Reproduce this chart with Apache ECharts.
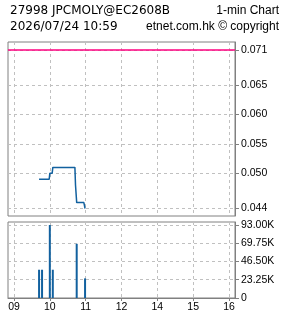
<!DOCTYPE html>
<html>
<head>
<meta charset="utf-8">
<script src="https://cdn.jsdelivr.net/npm/echarts@6/dist/echarts.min.js"></script>
<style>html,body{margin:0;padding:0;background:#fff}#c{width:285px;height:318px}</style>
</head>
<body>
<div id="c"></div>
<script>
// ---- texts ----
const titleLeft1 = "27998 JPCMOLY@EC2608B";
const titleRight1 = "1-min Chart";
const titleLeft2 = "2026/07/24 10:59";
const titleRight2 = "etnet.com.hk \u00a9 copyright";

// ---- time axis (trading sessions, lunch collapsed) ----
const sessions = [["08:50", "12:00"], ["13:01", "16:10"]];
const hourTicks = ["09:00", "10:00", "11:00", "12:00", "14:00", "15:00", "16:00"];
const hourLabels = ["09", "10", "11", "12", "14", "15", "16"];

// ---- price (minute close, corners of the line) ----
const priceTimes = ["09:42", "09:59", "10:00", "10:04", "10:05", "10:42", "10:43", "10:44", "10:45", "10:57", "10:59"];
const priceValues = [0.049, 0.049, 0.050, 0.050, 0.051, 0.051, 0.048, 0.048, 0.045, 0.045, 0.044];
const refLevel = 0.071;
const priceTicks = [0.044, 0.050, 0.055, 0.060, 0.065, 0.071];

// ---- volume ----
const volTimes = ["09:42", "09:47", "10:00", "10:05", "10:45", "10:59"];
const volValues = [36000, 36000, 93000, 36000, 69000, 25000];
const volTicks = [0, 23250, 46500, 69750, 93000];

// build minute categories
function toMin(s) { const p = s.split(":"); return +p[0] * 60 + +p[1]; }
function fmt(m) { const h = Math.floor(m / 60), mm = m % 60; return (h < 10 ? "0" : "") + h + ":" + (mm < 10 ? "0" : "") + mm; }
const categories = [];
sessions.forEach(function (s) { for (let m = toMin(s[0]); m <= toMin(s[1]); m++) categories.push(fmt(m)); });

const isHour = function (idx, val) { return hourTicks.indexOf(val) >= 0; };
const gridColor = '#c0c0c0';
const borderColor = '#808080';
const blue = '#12619f';
const labelFont = { fontFamily: 'Liberation Sans', fontSize: 10.5, color: '#000' };

const chart = echarts.init(document.getElementById('c'), null, { renderer: 'canvas' });
chart.setOption({
  animation: false,
  backgroundColor: '#fff',
  graphic: [
    { type: 'text', left: 10, top: 5, style: { text: titleLeft1, font: '12px "DejaVu Sans"', fill: '#000' } },
    { type: 'text', right: 6, top: 5, style: { text: titleRight1, font: '12px "Liberation Sans"', fill: '#000' } },
    { type: 'text', left: 10, top: 21, style: { text: titleLeft2, font: '12px "DejaVu Sans"', fill: '#000' } },
    { type: 'text', right: 6, top: 21, style: { text: titleRight2, font: '12px "Liberation Sans"', fill: '#000' } }
  ],
  grid: [
    { left: 8, right: 50, top: 42, height: 174, show: true, borderColor: borderColor, borderWidth: 1, outerBoundsMode: 'none' },
    { left: 8, right: 50, top: 222, height: 76, show: true, borderColor: borderColor, borderWidth: 1, outerBoundsMode: 'none' }
  ],
  xAxis: [
    {
      type: 'category', gridIndex: 0, data: categories, boundaryGap: false,
      axisLine: { show: false }, axisTick: { show: false }, axisLabel: { show: false },
      splitLine: { show: true, interval: isHour, lineStyle: { color: gridColor, type: [3, 3], width: 1 } }
    },
    {
      type: 'category', gridIndex: 1, data: categories, boundaryGap: false,
      axisLine: { show: true, lineStyle: { color: borderColor } },
      axisTick: { show: true, interval: isHour, length: 3, lineStyle: { color: borderColor } },
      axisLabel: Object.assign({ show: true, interval: isHour, margin: 4,
        formatter: function (v) { const i = hourTicks.indexOf(v); return i >= 0 ? hourLabels[i] : ''; } }, labelFont),
      splitLine: { show: true, interval: isHour, lineStyle: { color: gridColor, type: [3, 3], width: 1 } }
    }
  ],
  yAxis: [
    {
      type: 'value', gridIndex: 0, position: 'right', min: 0.04272, max: 0.07236, scale: true,
      axisLine: { show: true, lineStyle: { color: borderColor } },
      axisTick: { show: true, customValues: priceTicks, length: 4, lineStyle: { color: borderColor } },
      axisLabel: Object.assign({ show: true, customValues: priceTicks, margin: 6,
        formatter: function (v) { return v.toFixed(3); } }, labelFont),
      splitLine: { show: true, lineStyle: { color: gridColor, type: [3, 3], width: 1 } }
    },
    {
      type: 'value', gridIndex: 1, position: 'right', min: 0, max: 96800,
      axisLine: { show: true, lineStyle: { color: borderColor } },
      axisTick: { show: true, customValues: volTicks, length: 4, lineStyle: { color: borderColor } },
      axisLabel: Object.assign({ show: true, customValues: volTicks, margin: 6,
        formatter: function (v) { return v === 0 ? '0' : (v / 1000).toFixed(2) + 'K'; } }, labelFont),
      splitLine: { show: true, lineStyle: { color: gridColor, type: [3, 3], width: 1 } }
    }
  ],
  series: [
    {
      type: 'line', xAxisIndex: 0, yAxisIndex: 0,
      data: priceTimes.map(function (t, i) { return [t, priceValues[i]]; }),
      showSymbol: false, symbol: 'none',
      lineStyle: { color: blue, width: 1.5 },
      markLine: {
        silent: true, symbol: ['none', 'none'], label: { show: false }, precision: 4,
        lineStyle: { color: '#ff0080', width: 1.5, type: 'solid' },
        data: [{ yAxis: refLevel }]
      }
    },
    {
      type: 'bar', xAxisIndex: 1, yAxisIndex: 1,
      data: volTimes.map(function (t, i) { return [t, volValues[i]]; }),
      barWidth: 2, itemStyle: { color: blue }
    }
  ]
});
</script>
</body>
</html>
